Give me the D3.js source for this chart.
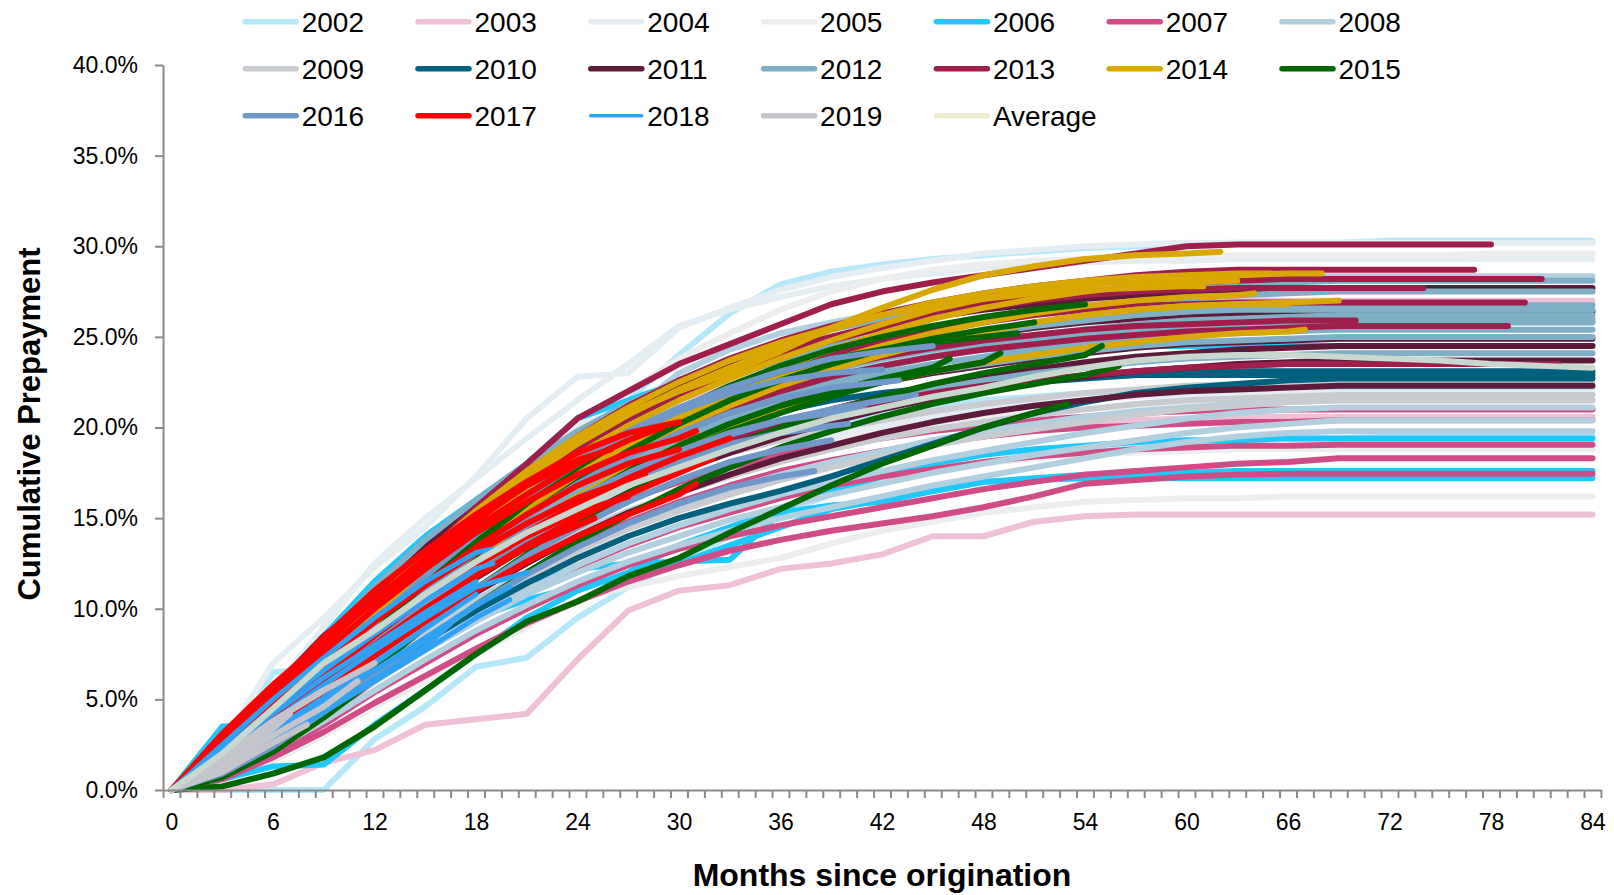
<!DOCTYPE html>
<html>
<head>
<meta charset="utf-8">
<script src="https://d3js.org/d3.v7.min.js"></script>
<style>
  body { margin: 0; background: #fff; }
  svg text { font-family: "Liberation Sans", Arial, sans-serif; fill: #000; }
</style>
</head>
<body>
<script>
// month grid of the readings (every 3 months); the last value of a line sits at its end month
var months = [0,3,6,9,12,15,18,21,24,27,30,33,36,39,42,45,48,51,54,57,60,63,66,69,72,75,78,81,84];
var yTicks = [0,5,10,15,20,25,30,35,40];
var xLabels = [0,6,12,18,24,30,36,42,48,54,60,66,72,78,84];

var years = ["2002","2003","2004","2005","2006","2007","2008","2009","2010","2011","2012","2013","2014","2015","2016","2017","2018","2019"];
var colors = ["#b5e9fa","#f0c0d6","#e4edf2","#ecedef","#1ec8fa","#d04c86","#b2cfe0","#c8ccd0","#00607e","#5e1a3a","#7fafc6","#a01e4c","#d8a800","#006600","#7098c8","#ff0000","#30a2f5","#c4c4cc"];

var v2002 = [
  [0,1.2,3,5.5,8,10.5,14,17,19.5,21.5,24,26.3,27.9,28.6,29,29.3,29.5,29.7,29.9,30,30.1,30.2,30.2,30.2,30.3,30.3,30.3,30.3,30.3],
  [0,0,0,0,2.8,4.6,6.8,7.3,9.5,11.2,12.6,14,15.3,16.3,17,17.6,18.1,18.5,18.8,19,19.2,19.3,19.4,19.4,19.5,19.5,19.5,19.5,19.5],
  [0,1.5,6.5,6.7,8.5,10.2,12,13.6,15.2,16.6,17.8,18.8,19.6,20.3,20.8,21.2,21.5,21.7,21.9,22,22.1,22.1,22.2,22.2,22.2,22.2,22.2,22.2,22.2]
];
var v2003 = [
  [0,0,0.3,1.5,2.2,3.6,3.9,4.2,7.2,9.9,11,11.3,12.2,12.5,13,14,14,14.8,15.1,15.2,15.2,15.2,15.2,15.2,15.2,15.2,15.2,15.2,15.2],
  [0,1.2,3,5.5,8.5,11.2,15.6,17,18.5,20.4,21.5,22.5,23.5,24.8,25.8,26.6,26.8,26.9,27,27,27,27,27,27,27,27,27,27,27],
  [0,0.8,2.2,4,6.2,8,9.8,11.5,13.2,14.5,15.6,16.5,17.3,18,18.6,19.1,19.5,19.9,20.2,20.4,20.5,20.6,20.6,20.6,20.6,20.6,20.6,20.6,20.6]
];
var v2004 = [
  [0,2.5,7,9.5,12.3,14.5,17.3,20.5,22.8,23,25.5,26.6,27.6,28.3,28.8,29.2,29.6,29.8,30,30.1,30.2,30.2,30.2,30.2,30.2,30.2,30.2,30.2,30.2],
  [0,1.8,4.5,7.5,10.5,13,15.5,17.8,19.8,21.3,22.5,23.4,24.1,24.6,25,25.3,25.5,25.6,25.7,25.8,25.8,25.8,25.8,25.8,25.8,25.8,25.8,25.8,25.8],
  [0,1.2,3.2,5.5,7.8,9.8,11.6,13.3,14.8,16,17.1,18,18.8,19.5,20.1,20.6,21,21.3,21.5,21.7,21.8,21.8,21.9,21.9,21.9,21.9,21.9,21.9,21.9],
  [0,2,5.5,9,12.5,15,17.2,19.4,21.5,23.5,25.6,26.5,27.2,27.8,28.2,28.5,28.8,29,29.1,29.2,29.2,29.3,29.3,29.3,29.3,29.3,29.3,29.3,29.3]
];
var v2005 = [
  [0,2,4.8,7.5,10,12.5,15,17.5,20,22,23.8,25.2,26.5,27.5,28.2,28.7,29,29.2,29.3,29.4,29.4,29.5,29.5,29.5,29.5,29.5,29.6,29.6,29.6],
  [0,0.5,1.6,3,4.6,6,7.5,9,10.5,11.2,11.8,12.3,12.8,13.6,14.3,14.8,15.3,15.6,15.9,16,16.1,16.1,16.2,16.2,16.2,16.2,16.2,16.2,16.2],
  [0,1.4,3.6,6,8.2,10.2,12,13.6,15,16.2,17.2,18,18.7,19.3,19.8,20.2,20.5,20.8,21,21.2,21.3,21.4,21.4,21.5,21.5,21.5,21.5,21.5,21.5],
  [0,1,2.6,4.5,6.5,8.2,9.8,11.2,12.5,13.6,14.6,15.5,16.2,16.8,17.3,17.7,18,18.3,18.5,18.6,18.7,18.8,18.8,18.8,18.8,18.8,18.8,18.8,18.8]
];
var v2006 = [
  [0,3.5,3.6,5,6.5,8.2,10,11.5,12.2,12.5,12.6,12.7,15.3,15.7,15.9,16.5,17,17.1,17.2,17.2,17.2,17.2,17.2,17.2,17.2,17.2,17.2,17.2,17.2],
  [0,0.6,1.3,1.4,3.6,5.5,7.5,9.5,11,12,13.5,14.5,15.5,16.5,17.3,18,18.5,18.8,19,19.2,19.3,19.3,19.4,19.4,19.4,19.4,19.4,19.4,19.4],
  [0,2,5.5,8.5,11.5,14,16,18,20.5,21.5,22.5,23.2,23.5,23.8,24,24.2,24.3,24.4,24.5,24.5,24.5,24.5,24.5,24.5,24.5,24.5,24.5,24.5,24.5],
  [0,1.2,3,4.8,6.5,8,9.5,10.5,11.2,11.8,12.5,13.5,14.5,15.5,16,16.5,17,17.2,17.4,17.5,17.5,17.6,17.6,17.6,17.6,17.6,17.6,17.6,17.6]
];
var v2007 = [
  [0,1,2.6,4.5,6.6,8.5,10.3,12,13.5,14.8,15.9,16.8,17.6,18.2,18.7,19.1,19.5,19.8,20,20.1,20.2,20.3,20.3,20.4,20.4,20.4,20.4,20.4,20.4],
  [0,0.8,2.2,4,6,7.8,9.5,11,12.3,13.5,14.5,15.3,16.1,16.8,17.3,17.7,18.1,18.4,18.6,18.8,18.9,19,19,19.05,19.05,19.05,19.05,19.05,19.05],
  [0,0.7,2,3.6,5.4,7,8.6,10,11.3,12.4,13.3,14,14.6,15.1,15.6,16.1,16.6,17,17.4,17.6,17.8,18,18.1,18.3,18.3,18.3,18.3,18.3,18.3],
  [0,0.6,1.8,3.2,4.8,6.3,7.8,9.2,10.4,11.5,12.4,13.2,13.8,14.3,14.7,15.1,15.6,16.2,16.9,17.1,17.3,17.4,17.45,17.45,17.45,17.45,17.45,17.45,17.45],
  [0,1.4,3.5,5.8,8,10,11.8,13.4,14.8,16,17,17.8,18.5,19,19.4,19.8,20.1,20.4,20.6,20.8,20.9,21,21,21,21,21,21,21,21]
];
var v2008 = [
  [0,1.8,4.5,7.5,10,12.5,14.8,17,19,20.8,23,24.3,25.2,25.8,26.3,26.8,27.2,27.6,27.9,28.1,28.2,28.3,28.35,28.35,28.35,28.35,28.35,28.35,28.35],
  [0,1.2,3,5,7,8.8,10.5,12,13.4,14.6,15.7,16.6,17.4,18.1,18.7,19.3,19.8,20.2,20.6,20.9,21.1,21.3,21.4,21.5,21.5,21.5,21.5,21.5,21.5],
  [0,1,2.6,4.4,6.2,8,9.6,11,12.4,13.6,14.6,15.5,16.3,17,17.6,18.2,18.7,19.2,19.7,20.1,20.5,20.8,21,21.1,21.1,21.1,21.1,21.1,21.1],
  [0,0.9,2.4,4.2,6,7.7,9.3,10.8,12,13.1,14,14.9,15.6,16.3,16.9,17.5,18,18.5,18.9,19.3,19.7,20,20.2,20.4,20.4,20.4,20.4,20.4,20.4],
  [0,0.8,2.2,3.8,5.5,7.2,8.8,10.2,11.5,12.6,13.5,14.3,15,15.6,16.2,16.8,17.3,17.8,18.3,18.8,19.2,19.5,19.7,19.8,19.8,19.8,19.8,19.8,19.8],
  [0,1.6,4,6.8,9.3,11.6,13.7,15.7,17.5,19,20.3,21.4,22.3,23,23.6,24.1,24.5,24.9,25.2,25.5,25.7,25.8,25.9,26,26,26,26,26,26]
];
var v2009 = [
  [0,1.3,3.3,5.5,7.6,9.5,11.2,12.8,14.2,15.4,16.4,17.3,18.1,18.8,19.4,19.9,20.3,20.7,21,21.3,21.5,21.6,21.7,21.8,21.8,21.8,21.8,21.8,21.8],
  [0,1,2.8,4.8,6.8,8.6,10.3,11.8,13.2,14.4,15.4,16.3,17.1,17.8,18.4,19,19.5,19.9,20.3,20.7,21,21.2,21.4,21.5,21.5,21.5,21.5,21.5,21.5],
  [0,1.6,4,6.5,8.8,10.8,12.6,14.2,15.6,16.8,17.8,18.6,19.3,19.9,20.4,20.9,21.3,21.6,21.9,22.1,22.3,22.4,22.5,22.5,22.5,22.5,22.5,22.5,22.5]
];
var v2010 = [
  [0,1.5,3.6,6,8.3,10.3,12.2,14,15.6,17,18.2,19.2,20,20.7,21.3,21.8,22.2,22.5,22.7,22.9,23,23.1,23.1,23.1,23.1,23.1,23.1,23.1,23.1],
  [0,1,2.6,4.4,6.4,8.2,9.9,11.4,12.8,14,15,15.8,16.5,17.3,18.2,19.1,20,20.8,21.4,21.9,22.2,22.4,22.6,22.7,22.7,22.7,22.7,22.7,22.7],
  [0,1.8,4.2,6.8,9.2,11.3,13.2,15,16.6,18,19.2,20.1,20.9,21.5,21.9,22.2,22.5,22.7,22.8,22.9,22.9,22.9,22.9,22.9,22.9,22.9,22.9,22.9,22.9]
];
var v2011 = [
  [0,2,5,8.2,11,13.5,15.8,17.8,19.6,21.1,22.4,23.4,24.3,25,25.6,26.1,26.5,26.8,27.1,27.3,27.5,27.6,27.7,27.7,27.7,27.7,27.7,27.7,27.7],
  [0,1.8,4.5,7.4,10,12.3,14.5,16.4,18.2,19.7,21,22,22.9,23.6,24.2,24.7,25.1,25.5,25.8,26,26.2,26.3,26.4,26.4,26.4,26.4,26.4,26.4,26.4],
  [0,1.6,4,6.6,9,11.2,13.2,15,16.7,18.1,19.3,20.3,21.2,21.9,22.5,23,23.4,23.8,24.1,24.4,24.6,24.7,24.8,24.9,24.9,24.9,24.9,24.9,24.9],
  [0,1.4,3.6,6,8.3,10.4,12.3,14.1,15.7,17.1,18.3,19.3,20.2,21,21.7,22.3,22.8,23.2,23.6,23.9,24.1,24.3,24.4,24.5,24.5,24.5,24.5,24.5,24.5],
  [0,1.3,3.3,5.6,7.8,9.8,11.7,13.4,15,16.4,17.6,18.6,19.5,20.3,21,21.6,22.1,22.5,22.8,23.1,23.3,23.5,23.6,23.7,23.7,23.7,23.7,23.7,23.7],
  [0,1.1,3,5.1,7.2,9.1,10.9,12.5,14,15.3,16.4,17.4,18.3,19,19.7,20.3,20.8,21.2,21.5,21.8,22,22.1,22.2,22.3,22.3,22.3,22.3,22.3,22.3]
];
var v2012 = [
  [0,2,5,8.2,11.2,13.8,16,18,19.8,21.3,22.6,23.7,24.6,25.4,26,26.5,26.9,27.2,27.5,27.7,27.8,27.9,28,28.1,28.1,28.1,28.1,28.1,28.1],
  [0,1.8,4.6,7.6,10.4,12.9,15.1,17.1,18.9,20.4,21.7,22.8,23.7,24.5,25.1,25.6,26,26.4,26.7,26.9,27.1,27.3,27.4,27.5,27.5,27.5,27.5,27.5,27.5],
  [0,1.7,4.3,7.2,9.9,12.3,14.5,16.4,18.1,19.6,20.9,22,22.9,23.7,24.3,24.8,25.2,25.6,25.9,26.2,26.4,26.6,26.7,26.75,26.75,26.75,26.75,26.75,26.75],
  [0,1.7,4.3,7.1,9.7,12.1,14.3,16.2,17.9,19.4,20.7,21.8,22.7,23.5,24.2,24.8,25.3,25.7,26,26.2,26.4,26.5,26.5,26.5,26.5,26.5,26.5,26.5,26.5],
  [0,1.6,4.1,6.9,9.5,11.9,14,15.9,17.6,19.1,20.4,21.5,22.4,23.2,23.8,24.3,24.7,25.1,25.4,25.7,25.9,26,26.1,26.2,26.2,26.2,26.2,26.2,26.2],
  [0,1.5,3.8,6.4,9,11.3,13.4,15.3,17,18.5,19.8,20.9,21.8,22.6,23.3,23.9,24.4,24.8,25.1,25.4,25.6,25.7,25.8,25.9,25.9,25.9,25.9,25.9,25.9],
  [0,1.5,3.9,6.6,9.2,11.5,13.6,15.5,17.2,18.7,20,21.1,22,22.8,23.4,23.9,24.3,24.7,25,25.3,25.5,25.6,25.7,25.8,25.8,25.8,25.8,25.8,25.8],
  [0,1.4,3.7,6.3,8.8,11.1,13.2,15.1,16.8,18.3,19.6,20.7,21.6,22.4,23,23.5,23.9,24.3,24.6,24.9,25.1,25.2,25.3,25.4,25.4,25.4,25.4,25.4,25.4],
  [0,1.3,3.5,6,8.5,10.8,12.9,14.8,16.5,18,19.3,20.4,21.3,22,22.6,23.1,23.5,23.9,24.2,24.5,24.7,24.8,24.9,25,25,25,25,25,25],
  [0,1.2,3.2,5.6,8,10.2,12.2,14,15.7,17.1,18.4,19.4,20.3,21,21.6,22.1,22.6,23,23.3,23.6,23.8,23.9,24,24.1,24.1,24.1,24.1,24.1,24.1]
];
var v2013 = [
  [0,2.8,5.6,8.5,10.6,13,15.6,18,20.5,22,23.5,24.6,25.7,26.8,27.5,28,28.4,28.8,29.2,29.6,30,30.1,30.1,30.1,30.1,30.1,30.1],
  [0,2.4,5,7.8,10.3,12.8,15.2,17.5,19.5,21.2,22.6,23.8,24.8,25.6,26.3,26.9,27.4,27.8,28.1,28.4,28.6,28.7,28.7,28.7,28.7,28.7,28.7],
  [0,2.2,4.8,7.5,10,12.4,14.7,16.8,18.7,20.4,21.9,23.1,24.1,25,25.7,26.3,26.8,27.2,27.5,27.8,28,28.1,28.2,28.2,28.2,28.2,28.2,28.2],
  [0,2.3,5,7.7,10.2,12.6,14.8,16.9,18.8,20.4,21.8,23,24,24.8,25.5,26.1,26.6,27,27.3,27.5,27.6,27.7,27.7,27.7,27.7,27.7],
  [0,2,4.5,7.1,9.6,12,14.2,16.2,18,19.6,21,22.2,23.2,24,24.7,25.3,25.8,26.2,26.5,26.7,26.8,26.9,26.9,26.9,26.9,26.9,26.9,26.9],
  [0,2.1,4.6,7.2,9.7,12,14.1,16,17.7,19.2,20.5,21.6,22.5,23.3,23.9,24.4,24.8,25.1,25.4,25.6,25.7,25.8,25.9,25.9,25.9],
  [0,1.8,4.2,6.8,9.2,11.5,13.6,15.5,17.2,18.7,20,21.1,22,22.8,23.4,23.9,24.3,24.6,24.9,25.1,25.3,25.4,25.5,25.6,25.6,25.6,25.6,25.6],
  [0,1.7,4,6.4,8.7,10.8,12.7,14.4,15.9,17.2,18.3,19.3,20.1,20.8,21.4,21.9,22.3,22.6,22.9,23.1,23.3,23.4,23.5,23.5,23.5,23.5,23.5,23.5,23.5]
];
var end2013 = [78,77,81,74,80,70,79,82];
var v2014 = [
  [0,1.8,4.3,7,9.8,12.5,15,17.4,19.3,20.8,22,23,24.2,25.5,26.6,27.6,28.4,28.9,29.3,29.5,29.6,29.7],
  [0,1.7,4.1,6.8,9.5,12,14.4,16.6,18.5,20.1,21.5,22.7,23.8,24.8,25.7,26.5,27.1,27.6,27.9,28.1,28.3,28.4,28.5,28.5],
  [0,1.9,4.5,7.3,10,12.6,15,17.2,19.1,20.7,22.1,23.3,24.4,25.4,26.2,26.9,27.4,27.8,28.1,28.3,28.4,28.5,28.5],
  [0,1.6,4,6.6,9.2,11.7,14,16.1,18,19.6,21,22.2,23.3,24.3,25.2,26,26.6,27.1,27.5,27.8,28,28.1],
  [0,2,4.7,7.6,10.4,13,15.4,17.6,19.5,21.1,22.5,23.7,24.7,25.5,26.2,26.7,27.1,27.4,27.6,27.7,27.8,27.8],
  [0,1.5,3.8,6.4,9,11.4,13.7,15.8,17.6,19.2,20.6,21.8,22.8,23.7,24.5,25.2,25.8,26.3,26.7,27,27.2,27.3,27.4],
  [0,1.4,3.6,6.1,8.6,11,13.2,15.2,17,18.6,20,21.2,22.3,23.2,24,24.7,25.3,25.8,26.2,26.5,26.7,26.8,26.9,27],
  [0,1.6,3.9,6.5,9,11.4,13.6,15.6,17.4,19,20.4,21.6,22.6,23.5,24.2,24.8,25.3,25.8,26.2,26.5,26.7,26.8,26.8],
  [0,1.3,3.4,5.8,8.2,10.5,12.6,14.5,16.2,17.7,19,20.1,21,21.8,22.5,23.1,23.6,24,24.4,24.7,25,25.2,25.3,25.4]
];
var end2014 = [62,68,65,63,61,64,69,66,67];
var v2015 = [
  [0,1.2,3.2,5.8,8.5,11.2,13.6,15.8,17.8,19.5,21,22.3,23.4,24.3,25,25.6,26.1,26.5,26.8],
  [0,1.1,3,5.5,8.1,10.7,13,15.1,17,18.7,20.2,21.5,22.6,23.5,24.3,24.9,25.4,25.8],
  [0,1.3,3.4,6,8.8,11.5,13.9,16,17.9,19.6,21,22.2,23.1,23.8,24.3,24.7,25,25.2],
  [0,1,2.8,5.1,7.6,10,12.2,14.2,16,17.6,19,20.2,21.2,22,22.7,23.3,23.8],
  [0,0.9,2.6,4.8,7.2,9.6,11.8,13.8,15.6,17.2,18.6,19.8,20.8,21.7,22.5,23.1,23.6,24.1],
  [0,0.8,2.3,4.4,6.7,9,11.1,13,14.8,16.4,17.8,19,20,20.9,21.7,22.4,23,23.5,24,24.5],
  [0,0.7,2.1,4,6.1,8.2,10.2,12,13.7,15.2,16.6,17.8,18.9,19.8,20.6,21.3,21.9,22.4,22.9,23.4],
  [0,0.2,0.9,1.8,3.5,5.5,7.5,9.3,10.4,11.8,12.8,14.2,15.5,16.8,18,19,20,20.8,21.3]
];
var end2015 = [54,51,50,46,49,55,56,53];
var v2016 = [
  [0,1.5,3.8,6.5,9.2,11.8,14.2,16.3,18.2,19.8,21.1,22.2,23.1,23.8,24.2,24.5],
  [0,1.6,4,6.7,9.3,11.8,14.1,16.2,18,19.6,20.9,21.9,22.6,23,23.2],
  [0,1.4,3.5,6,8.5,10.9,13.1,15.1,16.9,18.4,19.7,20.8,21.6,22.2,22.5,22.6],
  [0,1.2,3.1,5.4,7.8,10.1,12.2,14.1,15.8,17.3,18.6,19.6,20.4,21,21.5,21.8],
  [0,1.3,3.3,5.7,8.1,10.4,12.5,14.4,16.1,17.5,18.7,19.7,20.4,20.8,21],
  [0,1.1,2.9,5.1,7.4,9.7,11.8,13.7,15.4,16.9,18.1,19.1,19.7,20.1,20.2],
  [0,1,2.7,4.8,7,9.1,11.1,12.9,14.5,15.9,17.1,18.1,18.8,19.3],
  [0,0.9,2.4,4.3,6.3,8.3,10.2,11.9,13.4,14.7,15.8,16.7,17.3,17.6]
];
var end2016 = [45,42,43,44,41,40,39,38];
var v2017 = [
  [0,3.1,5.8,8.2,10.4,12.5,14.5,16.3,18,19.3,20],
  [0,2.6,5.5,8.4,11,13.2,15.2,17,18.6,19.7,20.3],
  [0,2.3,5,7.6,10,12.2,14.2,15.9,17.4,18.6,19.4,19.8],
  [0,2.2,4.6,7,9.3,11.4,13.4,15.2,16.8,18,18.8],
  [0,1.8,4,6.3,8.5,10.6,12.5,14.2,15.8,17.2,18.4,19.4],
  [0,1.6,3.7,5.9,8,10,11.8,13.5,15,16.3,17.5,18.3],
  [0,1.4,3.3,5.4,7.4,9.3,11,12.6,14,15.2,16.3,16.9],
  [0,2.5,5.3,8,10.5,12.8,14.9,16.8,18.2,18.8],
  [0,2,4.5,7,9.3,11.3,13.1,14.7,16.1,17.1,17.4],
  [0,1.8,4,6.4,8.6,10.6,12.4,14,15.3,16.2],
  [0,1.5,3.5,5.7,7.9,9.9,11.8,13.4,14.6,15]
];
var end2017 = [29,30,31,30,33,32,31,26,28,27,25];
var v2018 = [
  [0,2.5,5,7.3,9.5,11.5,13.1,13.3],
  [0,2.2,4.5,6.6,8.6,10.5,12.2,12.5],
  [0,1.8,3.8,5.8,7.7,9.5,11.2,12],
  [0,2,4.2,6.2,8,9.8,11.5],
  [0,1.5,3.3,5.1,7,8.9,10.8],
  [0,1.4,3,4.8,6.6,8.4,10.2,11.2],
  [0,1.2,2.7,4.3,6,7.7,9.5,10.5],
  [0,1.3,2.8,4.4,6.1,7.9,9.6],
  [0,1.6,3.3,5,6.6,8.2,9]
];
var end2018 = [19,19,21,18,18,20,20,17,16];
var v2019 = [
  [0,1.8,3.8,5.5,7],
  [0,1.3,3,4.6,6],
  [0,1.6,3.8,5.5],
  [0,1.4,3.4,4.2],
  [0,1,2.6,3.6]
];
var end2019 = [12,11,9,7,8];
var average = [0,2,4.5,7,8.8,10.8,12.6,14.2,15.5,16.8,17.8,18.8,19.7,20.5,21.1,21.7,22.2,22.8,23.3,23.7,23.9,24,24,23.9,23.8,23.7,23.5,23.4,23.3];

var vintages = [v2002,v2003,v2004,v2005,v2006,v2007,v2008,v2009,v2010,v2011,v2012,v2013,v2014,v2015,v2016,v2017,v2018,v2019];
var vintageEnds = [null,null,null,null,null,null,null,null,null,null,null,end2013,end2014,end2015,end2016,end2017,end2018,end2019];

var width = 1614, height = 895;
var svg = d3.select("body").append("svg")
    .attr("width", width)
    .attr("height", height);

var x = d3.scaleLinear().domain([0, 84]).range([171.5, 1592.5]);
var y = d3.scaleLinear().domain([0, 40]).range([790, 65]);
// the category axis runs half a month past the first and last point
var xAxisScale = d3.scaleLinear().domain([-0.5, 84.5]).range([x(-0.5), x(84.5)]);

function toPoints(vals, end) {
  return vals.map(function(v, k) {
    var m = (k === vals.length - 1) ? end : months[k];
    return [m, v];
  });
}

var line = d3.line()
    .x(function(d) { return x(d[0]); })
    .y(function(d) { return y(d[1]); });

var plot = svg.append("g");

vintages.forEach(function(lines, i) {
  lines.forEach(function(vals, j) {
    var end = vintageEnds[i] ? vintageEnds[i][j] : 84;
    plot.append("path")
        .datum(toPoints(vals, end))
        .attr("d", line)
        .attr("fill", "none")
        .attr("stroke", colors[i])
        .attr("stroke-width", years[i] === "2018" ? 5 : 6)
        .attr("stroke-linejoin", "round")
        .attr("stroke-linecap", "round");
  });
});

plot.append("path")
    .datum(toPoints(average, 84))
    .attr("d", line)
    .attr("fill", "none")
    .attr("stroke", "#c9d8ce")
    .attr("stroke-width", 6)
    .attr("stroke-linejoin", "round")
    .attr("stroke-linecap", "round");

// y axis
svg.append("g")
    .attr("transform", "translate(" + x(-0.5) + ",0)")
    .call(d3.axisLeft(y).tickValues(yTicks).tickSize(8).tickSizeOuter(0).tickPadding(17)
      .tickFormat(function(d) { return d.toFixed(1) + "%"; }));

// x axis: minor ticks between months, labels every 6 months
svg.append("g")
    .attr("transform", "translate(0," + y(0) + ")")
    .call(d3.axisBottom(xAxisScale).tickValues(d3.range(-0.5, 85, 1)).tickSize(8).tickSizeOuter(0).tickFormat(""));

var xLab = svg.append("g")
    .attr("transform", "translate(0," + y(0) + ")")
    .call(d3.axisBottom(x).tickValues(xLabels).tickSize(0).tickPadding(24));
xLab.select(".domain").remove();

svg.selectAll(".domain, .tick line")
    .attr("stroke", "#898989")
    .attr("stroke-width", 2);
svg.selectAll(".tick text")
    .attr("font-family", "Liberation Sans, Arial, sans-serif")
    .attr("font-size", 23)
    .attr("fill", "#000");

// axis titles
svg.append("text")
    .attr("x", 882)
    .attr("y", 886)
    .attr("text-anchor", "middle")
    .attr("font-size", 32)
    .attr("font-weight", "bold")
    .text("Months since origination");

svg.append("text")
    .attr("transform", "translate(40,424) rotate(-90)")
    .attr("text-anchor", "middle")
    .attr("font-size", 31)
    .attr("font-weight", "bold")
    .text("Cumulative Prepayment");

// legend
var legendNames = years.concat(["Average"]);
var legendColors = colors.concat(["#f0eed0"]);
var legend = svg.append("g");
legendNames.forEach(function(name, i) {
  var col = i % 7, row = Math.floor(i / 7);
  var lx = 242.7 + col * 172.8, ly = 21.7 + row * 47;
  var g = legend.append("g").attr("transform", "translate(" + lx + "," + ly + ")");
  g.append("line")
      .attr("x1", 2.5).attr("x2", 53.5)
      .attr("y1", 0).attr("y2", 0)
      .attr("stroke", legendColors[i])
      .attr("stroke-width", name === "2018" ? 3.5 : 5.5)
      .attr("stroke-linecap", "round");
  g.append("text")
      .attr("x", 59)
      .attr("y", 10)
      .attr("font-size", 28)
      .text(name);
});
</script>
</body>
</html>
